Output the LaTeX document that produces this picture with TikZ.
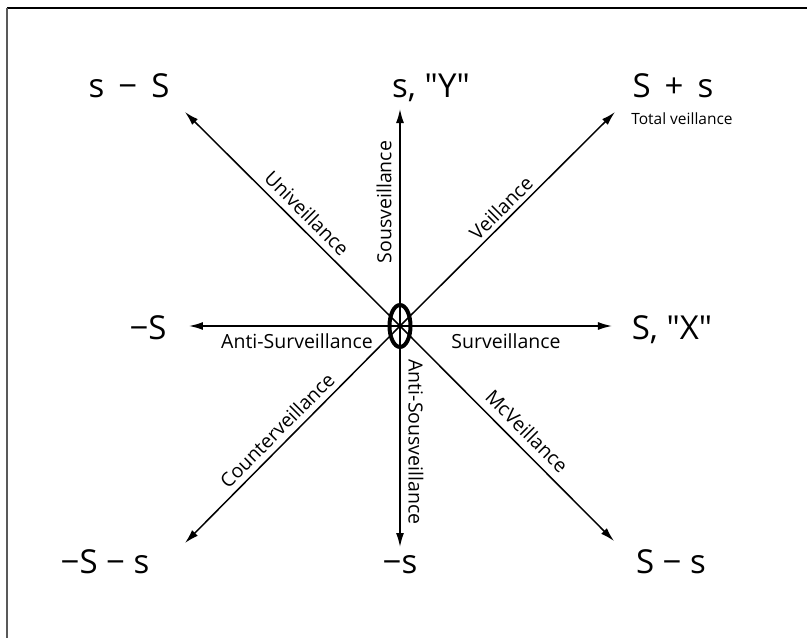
\documentclass[tikz,border=0pt]{standalone}
\usepackage{fontspec}
\setmainfont{Open Sans}
\newfontfamily\plainfont{Open Sans}
\usetikzlibrary{arrows.meta,shapes.geometric}
\begin{document}
\begin{tikzpicture}[x=1pt,y=1pt,
  axis/.style={line width=1.5pt,-{Latex[length=14pt,width=8pt]}},
  endlbl/.style={font=\plainfont\fontsize{33}{36}\selectfont,inner sep=0pt,anchor=base},
  arrlbl/.style={font=\plainfont\fontsize{19.5}{22}\selectfont,inner sep=0pt},
  frameline/.style={line width=2pt}]
\useasboundingbox (-400,-312) rectangle (407,326);
% frame
\coordinate (ftl) at (-393,318);
\coordinate (ftr) at (407,318);
\coordinate (fbl) at (-393,-312);
\draw[frameline,black] (ftl) -- (ftr);
\draw[frameline,black!65] (ftl) -- (fbl);
% centre and ends
\coordinate (o) at (0,0);
\coordinate (pN) at (0,217);
\coordinate (pS) at (0,-221);
\coordinate (pE) at (212,0);
\coordinate (pW) at (-211,0);
\coordinate (pNE) at (215,214);
\coordinate (pNW) at (-215,214);
\coordinate (pSW) at (-215,-217);
\coordinate (pSE) at (214,-215);
\foreach \p in {pN,pS,pE,pW,pNE,pNW,pSW,pSE} \draw[axis] (o) -- (\p);
\node[draw,line width=4pt,ellipse,minimum width=21pt,minimum height=42pt,inner sep=0pt] (ring) at (o) {};
% end labels
\node[endlbl] (lN) at (31,229) {s, "Y"};
\node[endlbl] (lS) at (0,-247) {−s};
\node[endlbl] (lE) at (272,-13) {S, "X"};
\node[endlbl] (lW) at (-252,-13) {−S};
\node[endlbl] (lNE) at (273,229) {S \,+\, s};
\node[font=\plainfont\fontsize{15.5}{17}\selectfont,inner sep=0pt,anchor=base] (lTot) at (282,202) {Total veillance};
\node[endlbl] (lNW) at (-271,229) {s \,−\, S};
\node[endlbl] (lSW) at (-295,-247) {−S − s};
\node[endlbl] (lSE) at (271,-247) {S − s};
% arrow labels
\node[arrlbl,rotate=-45] (uni) at (-93,113) {Univeillance};
\node[arrlbl,rotate=90] (sous) at (-16,124) {Sousveillance};
\node[arrlbl,rotate=45] (veil) at (101,118) {Veillance};
\node[arrlbl,anchor=base] (asurv) at (-103,-22) {Anti-Surveillance};
\node[arrlbl,anchor=base] (surv) at (106,-22) {Surveillance};
\node[arrlbl,rotate=45] (count) at (-123,-104) {Counterveillance};
\node[arrlbl,rotate=-90] (asous) at (16,-116) {Anti-Sousveillance};
\node[arrlbl,rotate=-45] (mcv) at (127,-105) {McVeillance};
\end{tikzpicture}
\end{document}
